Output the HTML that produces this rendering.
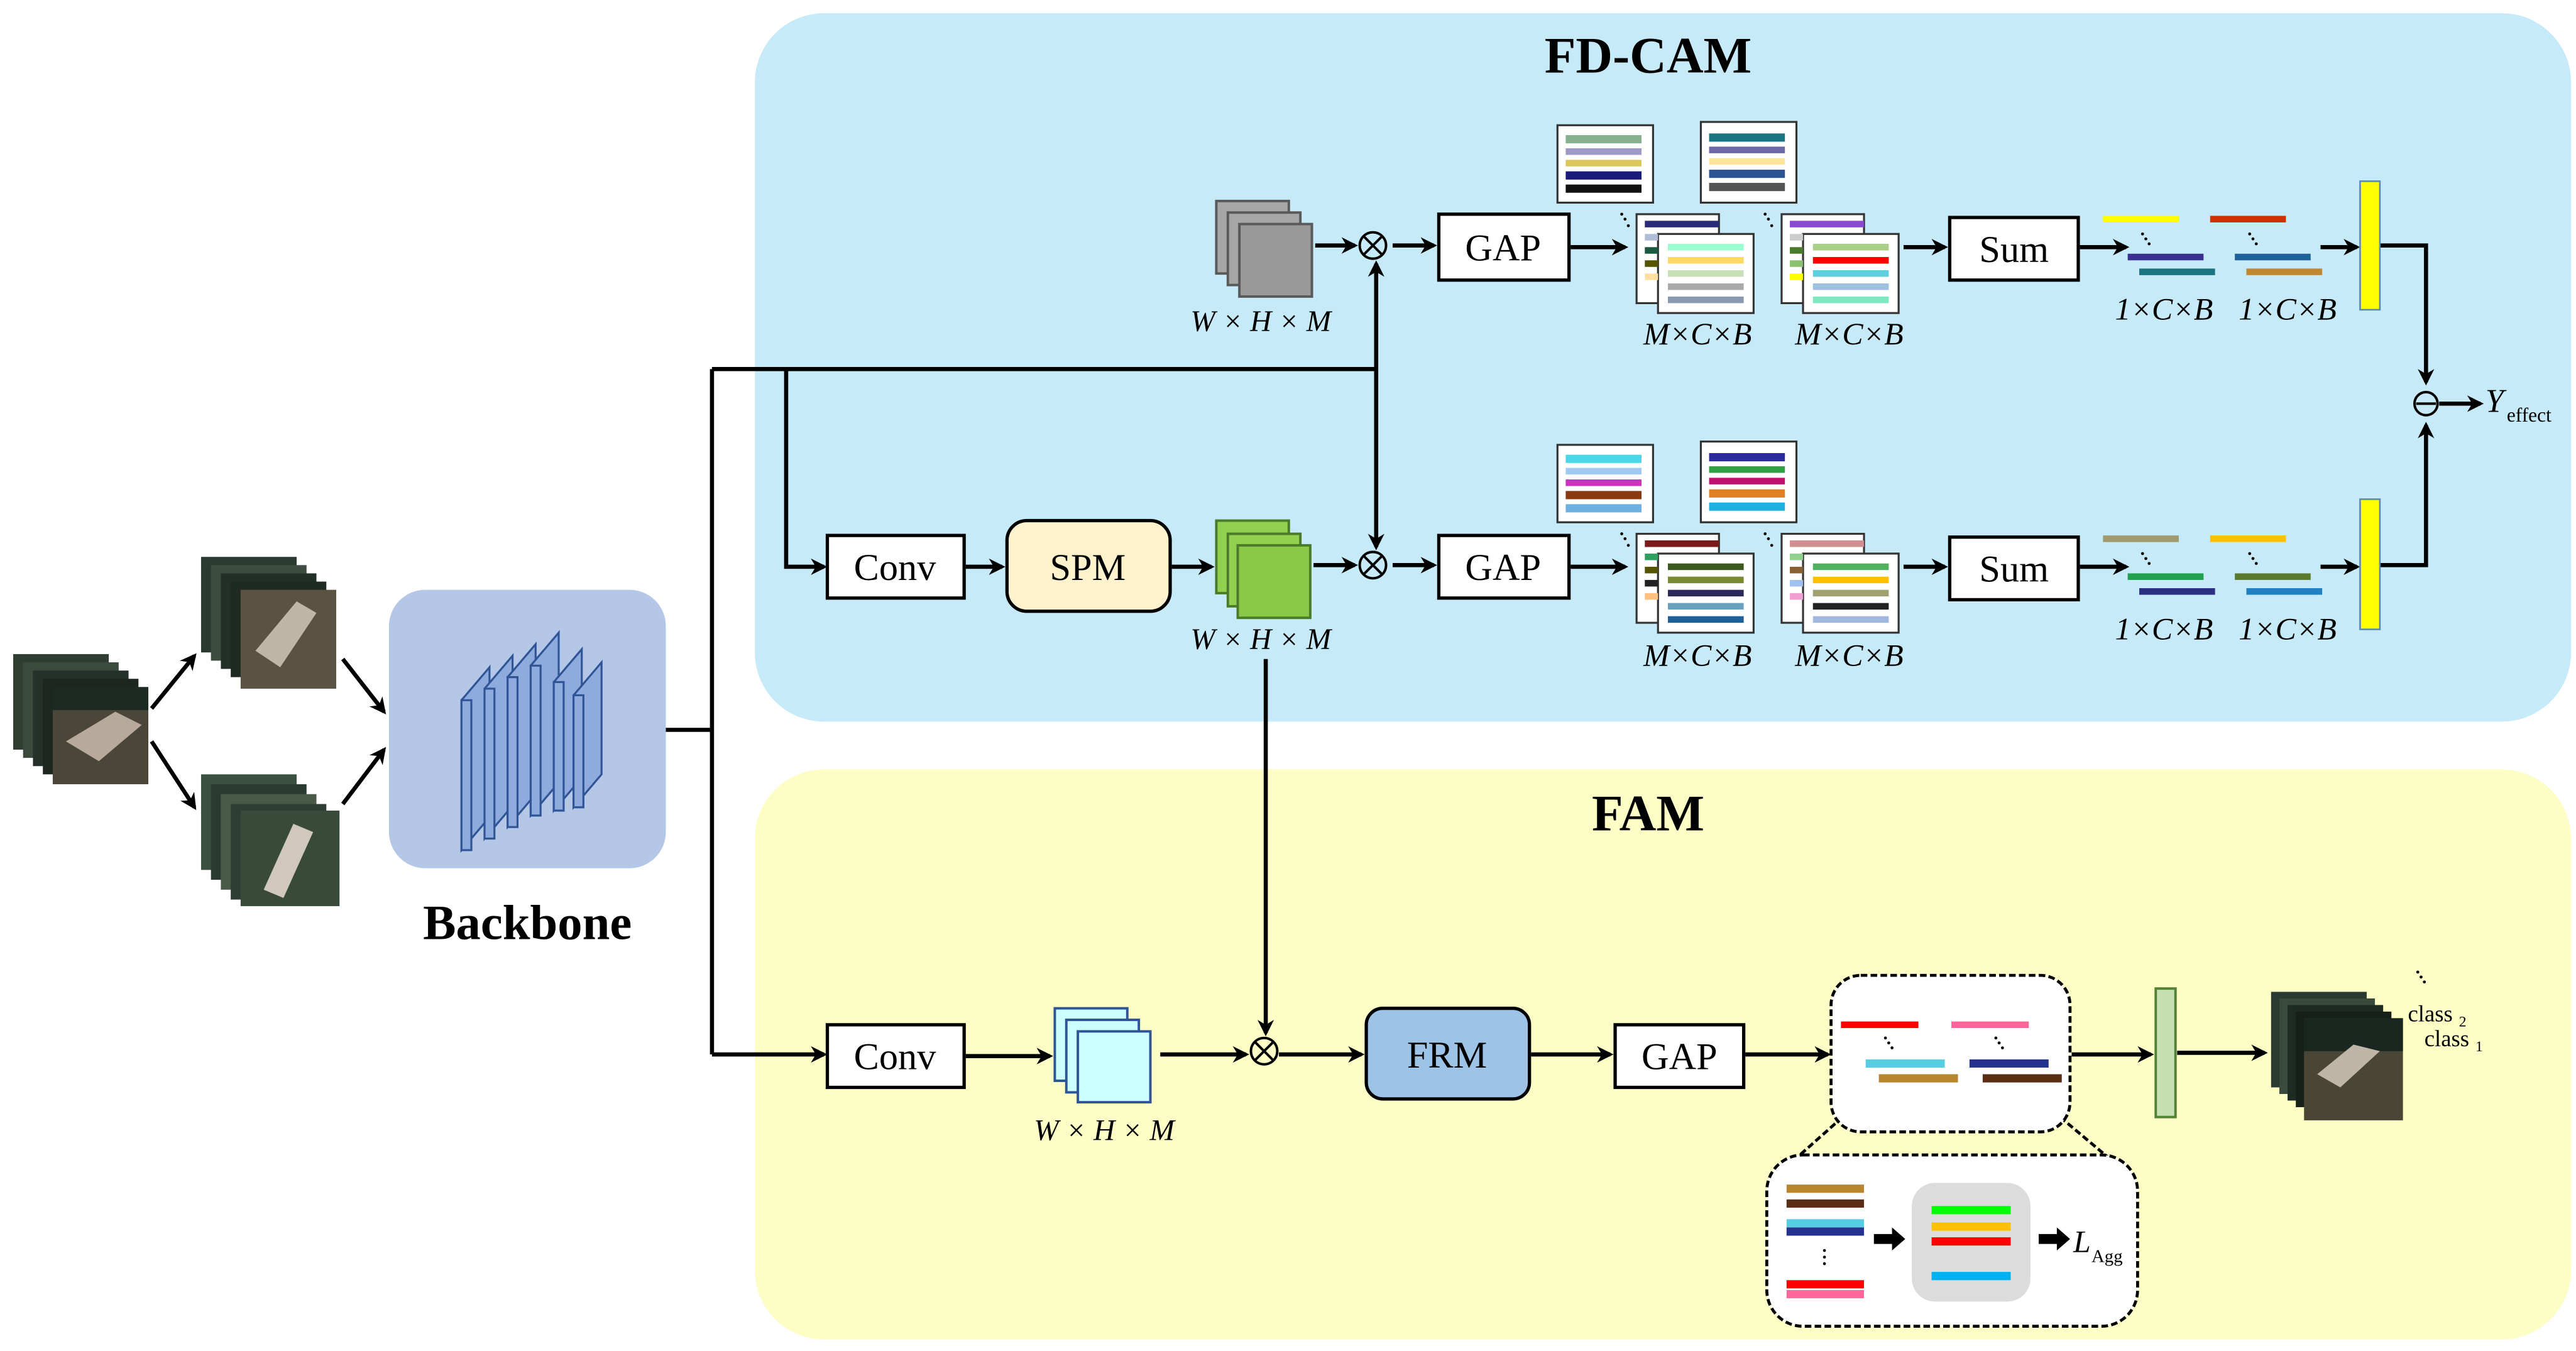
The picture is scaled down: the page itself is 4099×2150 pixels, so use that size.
<!DOCTYPE html>
<html><head><meta charset="utf-8"><style>
html,body{margin:0;padding:0;background:#fff;}
svg{display:block;}
text{font-family:"Liberation Serif",serif;}
</style></head><body>
<svg width="4099" height="2150" viewBox="0 0 1563 820" preserveAspectRatio="none" xmlns="http://www.w3.org/2000/svg" font-family="Liberation Serif, serif">
<defs>
<marker id="ah" markerWidth="10" markerHeight="10" refX="8" refY="5" orient="auto" markerUnits="userSpaceOnUse">
<path d="M0,0 L10,5 L0,10 L3,5 Z" fill="#000"/></marker>
</defs>
<rect width="1563" height="820" fill="#fff"/>
<rect x="458" y="8" width="1102" height="430" rx="42" fill="#c7eaf8"/>
<rect x="458" y="467" width="1102" height="346" rx="42" fill="#fdfdc6"/>
<text x="1000" y="44" font-size="31" font-weight="bold" text-anchor="middle">FD-CAM</text>
<text x="1000" y="504" font-size="31" font-weight="bold" text-anchor="middle">FAM</text>

<g>
<rect x="8" y="397" width="58" height="58" fill="#2f3d33"/>
<rect x="14" y="402" width="58" height="58" fill="#3a4a3c"/>
<rect x="20" y="407" width="58" height="58" fill="#26302a"/>
<rect x="26" y="412" width="58" height="58" fill="#1e2620"/>
<rect x="32" y="417" width="58" height="59" fill="#4a4638"/>
<polygon points="40,450 70,432 86,440 60,462" fill="#b8aa9a"/>
<rect x="32" y="417" width="58" height="14" fill="#1c2a22"/>
</g>
<g>
<rect x="122" y="338" width="58" height="58" fill="#2a3a30"/>
<rect x="128" y="343" width="58" height="58" fill="#3d4d40"/>
<rect x="134" y="348" width="58" height="58" fill="#233029"/>
<rect x="140" y="353" width="58" height="58" fill="#1e2a22"/>
<rect x="146" y="358" width="58" height="60" fill="#5a5242"/>
<polygon points="155,395 180,365 192,372 170,405" fill="#c0b6a8"/>
</g>
<g>
<rect x="122" y="470" width="58" height="58" fill="#3a5040"/>
<rect x="128" y="476" width="58" height="58" fill="#2a3a30"/>
<rect x="134" y="482" width="58" height="58" fill="#4a5a48"/>
<rect x="140" y="488" width="58" height="58" fill="#2e3e34"/>
<rect x="146" y="492" width="60" height="58" fill="#3a4a3a"/>
<polygon points="160,540 178,500 190,505 172,545" fill="#d0c8bc"/>
</g>
<g stroke="#000" stroke-width="2.5" fill="none" marker-end="url(#ah)">
<line x1="92" y1="430" x2="118" y2="398"/>
<line x1="92" y1="450" x2="118" y2="490"/>
<line x1="208" y1="400" x2="233" y2="432"/>
<line x1="208" y1="488" x2="233" y2="455"/>
</g>

<rect x="236" y="358" width="168" height="169" rx="22" fill="#b4c7e7"/>
<g fill="#8faadc" stroke="#2f5597" stroke-width="1.2">
<polygon points="280,425 297,405 297,496 280,516"/><polygon points="280,425 286,425 286,516 280,516"/>
<polygon points="294,418 311,398 311,489 294,509"/><polygon points="294,418 300,418 300,509 294,509"/>
<polygon points="308,411 325,391 325,482 308,502"/><polygon points="308,411 314,411 314,502 308,502"/>
<polygon points="322,404 339,384 339,475 322,495"/><polygon points="322,404 328,404 328,495 322,495"/>
<polygon points="336,414 353,394 353,472 336,492"/><polygon points="336,414 342,414 342,492 336,492"/>
<polygon points="348,422 365,402 365,470 348,490"/><polygon points="348,422 354,422 354,490 348,490"/>
</g>
<text x="320" y="570" font-size="30" font-weight="bold" text-anchor="middle">Backbone</text>

<g stroke="#000" stroke-width="2.5" fill="none">
<polyline points="404,443 432,443"/>
<polyline points="432,224 432,640"/>
<polyline points="432,224 835,224"/>
<polyline points="477,224 477,344 500,344" marker-end="url(#ah)"/>
<polyline points="432,640 500,640" marker-end="url(#ah)"/>
<line x1="835" y1="224" x2="835" y2="160" marker-end="url(#ah)"/>
<line x1="835" y1="224" x2="835" y2="332" marker-end="url(#ah)"/>
</g>

<g fill="#a6a6a6" stroke="#595959" stroke-width="1.5">
<rect x="738" y="122" width="44" height="44"/><rect x="745" y="129" width="44" height="44"/><rect x="752" y="136" width="44" height="44" fill="#999"/>
</g>
<text x="765" y="201" font-size="18" font-style="italic" text-anchor="middle">W × H × M</text>
<g stroke="#000" stroke-width="2.5" fill="none">
<line x1="798" y1="149" x2="822" y2="149" marker-end="url(#ah)"/>
<line x1="845" y1="149" x2="870" y2="149" marker-end="url(#ah)"/>
<line x1="953" y1="150" x2="986" y2="150" marker-end="url(#ah)"/>
<line x1="1155" y1="150" x2="1180" y2="150" marker-end="url(#ah)"/>
<line x1="1262" y1="150" x2="1290" y2="150" marker-end="url(#ah)"/>
<line x1="1408" y1="150" x2="1430" y2="150" marker-end="url(#ah)"/>
<polyline points="1444,149 1472,149 1472,232" marker-end="url(#ah)"/>
</g>
<circle cx="833" cy="149" r="8" fill="none" stroke="#000" stroke-width="1.5"/>
<path d="M827,143 L839,155 M839,143 L827,155" stroke="#000" stroke-width="1.5"/>
<rect x="873" y="130" width="79" height="40" fill="#fff" stroke="#000" stroke-width="2"/>
<text x="912" y="158" font-size="23" text-anchor="middle">GAP</text>
<rect x="1183" y="132" width="78" height="38" fill="#fff" stroke="#000" stroke-width="2"/>
<text x="1222" y="159" font-size="23" text-anchor="middle">Sum</text>

<g stroke="#333" stroke-width="1.2" fill="#fff">
<rect x="945" y="76" width="58" height="47"/><rect x="1032" y="74" width="58" height="49"/>
<rect x="993" y="130" width="50" height="54"/><rect x="1081" y="130" width="50" height="54"/>
<rect x="1006" y="142" width="58" height="48"/><rect x="1094" y="142" width="58" height="48"/>
</g>
<g>
<rect x="950" y="82" width="46" height="5" fill="#86b08e"/><rect x="950" y="90" width="46" height="4" fill="#9e9ac8"/><rect x="950" y="97" width="46" height="4" fill="#dcc75d"/><rect x="950" y="104" width="46" height="5" fill="#1a1a7a"/><rect x="950" y="112" width="46" height="5" fill="#111"/>
<rect x="1037" y="81" width="46" height="5" fill="#1b7580"/><rect x="1037" y="89" width="46" height="4" fill="#6b67a8"/><rect x="1037" y="96" width="46" height="4" fill="#ffe59a"/><rect x="1037" y="103" width="46" height="5" fill="#2a5595"/><rect x="1037" y="111" width="46" height="5" fill="#555"/>
<rect x="998" y="134" width="45" height="4" fill="#2a2a7a"/><rect x="998" y="142" width="8" height="4" fill="#b0bcd8"/><rect x="998" y="150" width="8" height="4" fill="#1a5a40"/><rect x="998" y="158" width="8" height="4" fill="#555500"/><rect x="998" y="166" width="8" height="4" fill="#ffe0a0"/>
<rect x="1086" y="134" width="45" height="4" fill="#8a4ad0"/><rect x="1086" y="142" width="8" height="4" fill="#ccc"/><rect x="1086" y="150" width="8" height="4" fill="#4a7a2a"/><rect x="1086" y="158" width="8" height="4" fill="#8ac070"/><rect x="1086" y="166" width="8" height="4" fill="#ffff00"/>
<rect x="1012" y="148" width="46" height="4" fill="#9affd0"/><rect x="1012" y="156" width="46" height="4" fill="#ffd866"/><rect x="1012" y="164" width="46" height="4" fill="#c8e0b8"/><rect x="1012" y="172" width="46" height="4" fill="#aaa"/><rect x="1012" y="180" width="46" height="4" fill="#8899b0"/>
<rect x="1100" y="148" width="46" height="4" fill="#a8d088"/><rect x="1100" y="156" width="46" height="4" fill="#ff0000"/><rect x="1100" y="164" width="46" height="4" fill="#5ccfe0"/><rect x="1100" y="172" width="46" height="4" fill="#9ec0e0"/><rect x="1100" y="180" width="46" height="4" fill="#7fe8c0"/>
</g>
<g fill="#000"><circle cx="984" cy="130" r="0.9"/><circle cx="986" cy="133" r="0.9"/><circle cx="988" cy="137" r="0.9"/><circle cx="1071" cy="130" r="0.9"/><circle cx="1073" cy="133" r="0.9"/><circle cx="1075" cy="137" r="0.9"/></g>
<text x="1030" y="209" font-size="19" font-style="italic" text-anchor="middle">M×C×B</text>
<text x="1122" y="209" font-size="19" font-style="italic" text-anchor="middle">M×C×B</text>
<rect x="1276" y="131" width="46" height="4" fill="#ffff00"/><rect x="1341" y="131" width="46" height="4" fill="#d03000"/>
<g fill="#000"><circle cx="1300" cy="142" r="0.9"/><circle cx="1302" cy="145" r="0.9"/><circle cx="1304" cy="148" r="0.9"/><circle cx="1365" cy="142" r="0.9"/><circle cx="1367" cy="145" r="0.9"/><circle cx="1369" cy="148" r="0.9"/></g>
<rect x="1291" y="154" width="46" height="4" fill="#3a3090"/><rect x="1356" y="154" width="46" height="4" fill="#1f6098"/>
<rect x="1298" y="163" width="46" height="4" fill="#1b7580"/><rect x="1363" y="163" width="46" height="4" fill="#c08830"/>
<text x="1313" y="194" font-size="19" font-style="italic" text-anchor="middle">1×C×B</text>
<text x="1388" y="194" font-size="19" font-style="italic" text-anchor="middle">1×C×B</text>
<rect x="1432" y="110" width="12" height="78" fill="#ffff00" stroke="#5a8ab0" stroke-width="1"/>

<circle cx="1472" cy="245" r="7" fill="none" stroke="#000" stroke-width="1.5"/>
<line x1="1466" y1="245" x2="1478" y2="245" stroke="#000" stroke-width="1.5"/>
<line x1="1480" y1="245" x2="1505" y2="245" stroke="#000" stroke-width="2.5" marker-end="url(#ah)"/>
<text x="1508" y="250" font-size="20" font-style="italic">Y</text><text x="1521" y="256" font-size="12">effect</text>

<rect x="502" y="325" width="83" height="38" fill="#fff" stroke="#000" stroke-width="2"/>
<text x="543" y="352" font-size="23" text-anchor="middle">Conv</text>
<rect x="611" y="316" width="99" height="55" rx="12" fill="#fff2cc" stroke="#000" stroke-width="2"/>
<text x="660" y="352" font-size="23" text-anchor="middle">SPM</text>
<g fill="#92d050" stroke="#4a7a2a" stroke-width="1.5">
<rect x="738" y="316" width="44" height="44"/><rect x="745" y="324" width="44" height="44"/><rect x="751" y="331" width="44" height="44" fill="#8ac848"/>
</g>
<text x="765" y="394" font-size="18" font-style="italic" text-anchor="middle">W × H × M</text>
<g stroke="#000" stroke-width="2.5" fill="none">
<line x1="586" y1="344" x2="608" y2="344" marker-end="url(#ah)"/>
<line x1="711" y1="344" x2="735" y2="344" marker-end="url(#ah)"/>
<line x1="797" y1="343" x2="822" y2="343" marker-end="url(#ah)"/>
<line x1="845" y1="343" x2="870" y2="343" marker-end="url(#ah)"/>
<line x1="953" y1="344" x2="986" y2="344" marker-end="url(#ah)"/>
<line x1="1155" y1="344" x2="1180" y2="344" marker-end="url(#ah)"/>
<line x1="1262" y1="344" x2="1290" y2="344" marker-end="url(#ah)"/>
<line x1="1408" y1="344" x2="1430" y2="344" marker-end="url(#ah)"/>
<polyline points="1444,343 1472,343 1472,258" marker-end="url(#ah)"/>
<line x1="768" y1="400" x2="768" y2="627" marker-end="url(#ah)"/>
</g>
<circle cx="833" cy="343" r="8" fill="none" stroke="#000" stroke-width="1.5"/>
<path d="M827,337 L839,349 M839,337 L827,349" stroke="#000" stroke-width="1.5"/>
<rect x="873" y="325" width="79" height="38" fill="#fff" stroke="#000" stroke-width="2"/>
<text x="912" y="352" font-size="23" text-anchor="middle">GAP</text>
<rect x="1183" y="326" width="78" height="38" fill="#fff" stroke="#000" stroke-width="2"/>
<text x="1222" y="353" font-size="23" text-anchor="middle">Sum</text>
<g stroke="#333" stroke-width="1.2" fill="#fff">
<rect x="945" y="270" width="58" height="47"/><rect x="1032" y="268" width="58" height="49"/>
<rect x="993" y="324" width="50" height="54"/><rect x="1081" y="324" width="50" height="54"/>
<rect x="1006" y="336" width="58" height="48"/><rect x="1094" y="336" width="58" height="48"/>
</g>
<g>
<rect x="950" y="276" width="46" height="5" fill="#4ad8e8"/><rect x="950" y="284" width="46" height="4" fill="#a0c8f0"/><rect x="950" y="291" width="46" height="4" fill="#d030c0"/><rect x="950" y="298" width="46" height="5" fill="#8a3a10"/><rect x="950" y="306" width="46" height="5" fill="#70b0e0"/>
<rect x="1037" y="275" width="46" height="5" fill="#2a2a9a"/><rect x="1037" y="283" width="46" height="4" fill="#30a040"/><rect x="1037" y="290" width="46" height="4" fill="#c01070"/><rect x="1037" y="297" width="46" height="5" fill="#e08020"/><rect x="1037" y="305" width="46" height="5" fill="#20b0e0"/>
<rect x="998" y="328" width="45" height="4" fill="#7a1a1a"/><rect x="998" y="336" width="8" height="4" fill="#30a060"/><rect x="998" y="344" width="8" height="4" fill="#555500"/><rect x="998" y="352" width="8" height="4" fill="#222"/><rect x="998" y="360" width="8" height="4" fill="#ffc080"/>
<rect x="1086" y="328" width="45" height="4" fill="#d09090"/><rect x="1086" y="336" width="8" height="4" fill="#90d090"/><rect x="1086" y="344" width="8" height="4" fill="#8a6030"/><rect x="1086" y="352" width="8" height="4" fill="#a0c0f0"/><rect x="1086" y="360" width="8" height="4" fill="#f0a0d0"/>
<rect x="1012" y="342" width="46" height="4" fill="#3a5a20"/><rect x="1012" y="350" width="46" height="4" fill="#7a8a30"/><rect x="1012" y="358" width="46" height="4" fill="#2a2a5a"/><rect x="1012" y="366" width="46" height="4" fill="#6aa0c0"/><rect x="1012" y="374" width="46" height="4" fill="#1f6098"/>
<rect x="1100" y="342" width="46" height="4" fill="#50b060"/><rect x="1100" y="350" width="46" height="4" fill="#ffc000"/><rect x="1100" y="358" width="46" height="4" fill="#a0a070"/><rect x="1100" y="366" width="46" height="4" fill="#222"/><rect x="1100" y="374" width="46" height="4" fill="#a0b8e0"/>
</g>
<g fill="#000"><circle cx="984" cy="324" r="0.9"/><circle cx="986" cy="327" r="0.9"/><circle cx="988" cy="331" r="0.9"/><circle cx="1071" cy="324" r="0.9"/><circle cx="1073" cy="327" r="0.9"/><circle cx="1075" cy="331" r="0.9"/></g>
<text x="1030" y="404" font-size="19" font-style="italic" text-anchor="middle">M×C×B</text>
<text x="1122" y="404" font-size="19" font-style="italic" text-anchor="middle">M×C×B</text>
<rect x="1276" y="325" width="46" height="4" fill="#a09a70"/><rect x="1341" y="325" width="46" height="4" fill="#ffc000"/>
<g fill="#000"><circle cx="1300" cy="336" r="0.9"/><circle cx="1302" cy="339" r="0.9"/><circle cx="1304" cy="342" r="0.9"/><circle cx="1365" cy="336" r="0.9"/><circle cx="1367" cy="339" r="0.9"/><circle cx="1369" cy="342" r="0.9"/></g>
<rect x="1291" y="348" width="46" height="4" fill="#20a050"/><rect x="1356" y="348" width="46" height="4" fill="#5a7a30"/>
<rect x="1298" y="357" width="46" height="4" fill="#2a3080"/><rect x="1363" y="357" width="46" height="4" fill="#2080c0"/>
<text x="1313" y="388" font-size="19" font-style="italic" text-anchor="middle">1×C×B</text>
<text x="1388" y="388" font-size="19" font-style="italic" text-anchor="middle">1×C×B</text>
<rect x="1432" y="303" width="12" height="79" fill="#ffff00" stroke="#5a8ab0" stroke-width="1"/>

<rect x="502" y="622" width="83" height="38" fill="#fff" stroke="#000" stroke-width="2"/>
<text x="543" y="649" font-size="23" text-anchor="middle">Conv</text>
<g fill="#ccffff" stroke="#2f5597" stroke-width="1.5">
<rect x="640" y="612" width="44" height="44"/><rect x="647" y="619" width="44" height="44"/><rect x="654" y="626" width="44" height="43"/>
</g>
<text x="670" y="692" font-size="18" font-style="italic" text-anchor="middle">W × H × M</text>
<circle cx="767" cy="638" r="8" fill="none" stroke="#000" stroke-width="1.5"/>
<path d="M761,632 L773,644 M773,632 L761,644" stroke="#000" stroke-width="1.5"/>
<rect x="829" y="612" width="99" height="55" rx="10" fill="#9dc3e6" stroke="#000" stroke-width="2"/>
<text x="878" y="648" font-size="23" text-anchor="middle">FRM</text>
<rect x="980" y="622" width="78" height="38" fill="#fff" stroke="#000" stroke-width="2"/>
<text x="1019" y="649" font-size="23" text-anchor="middle">GAP</text>
<g stroke="#000" stroke-width="2.5" fill="none">
<line x1="586" y1="641" x2="637" y2="641" marker-end="url(#ah)"/>
<line x1="704" y1="640" x2="756" y2="640" marker-end="url(#ah)"/>
<line x1="776" y1="640" x2="826" y2="640" marker-end="url(#ah)"/>
<line x1="929" y1="640" x2="977" y2="640" marker-end="url(#ah)"/>
<line x1="1059" y1="640" x2="1109" y2="640" marker-end="url(#ah)"/>
<line x1="1257" y1="640" x2="1305" y2="640" marker-end="url(#ah)"/>
<line x1="1321" y1="639" x2="1374" y2="639" marker-end="url(#ah)"/>
</g>
<g stroke="#000" stroke-width="1.8" stroke-dasharray="4,2" fill="#fff">
<line x1="1118" y1="678" x2="1082" y2="710" fill="none"/>
<line x1="1250" y1="678" x2="1288" y2="710" fill="none"/>
<rect x="1111" y="592" width="145" height="95" rx="18"/>
<rect x="1072" y="701" width="225" height="104" rx="22"/>
</g>
<rect x="1117" y="620" width="47" height="4" fill="#ff0000"/><rect x="1184" y="620" width="47" height="4" fill="#ff6699"/>
<g fill="#000"><circle cx="1144" cy="630" r="0.9"/><circle cx="1146" cy="633" r="0.9"/><circle cx="1148" cy="636" r="0.9"/><circle cx="1211" cy="630" r="0.9"/><circle cx="1213" cy="633" r="0.9"/><circle cx="1215" cy="636" r="0.9"/></g>
<rect x="1132" y="643" width="48" height="5" fill="#56cde0"/><rect x="1195" y="643" width="48" height="5" fill="#25338f"/>
<rect x="1140" y="652" width="48" height="5" fill="#b8862e"/><rect x="1203" y="652" width="48" height="5" fill="#5a2e14"/>
<rect x="1084" y="719" width="47" height="5" fill="#b8862e"/><rect x="1084" y="728" width="47" height="5" fill="#5a2e14"/>
<rect x="1084" y="740" width="47" height="5" fill="#56cde0"/><rect x="1084" y="745" width="47" height="5" fill="#25338f"/>
<g fill="#000"><circle cx="1107" cy="759" r="0.9"/><circle cx="1107" cy="763" r="0.9"/><circle cx="1107" cy="767" r="0.9"/><circle cx="1190" cy="762" r="0.9"/><circle cx="1190" cy="766" r="0.9"/><circle cx="1190" cy="770" r="0.9"/></g>
<rect x="1084" y="777" width="47" height="5" fill="#ff0000"/><rect x="1084" y="783" width="47" height="5" fill="#ff6699"/>
<rect x="1160" y="718" width="72" height="72" rx="14" fill="#dcdcdc"/>
<rect x="1172" y="732" width="48" height="5" fill="#00ff00"/><rect x="1172" y="742" width="48" height="5" fill="#ffc000"/><rect x="1172" y="751" width="48" height="5" fill="#ff0000"/><rect x="1172" y="772" width="48" height="5" fill="#00b0f0"/>
<polygon points="1137,749 1148,749 1148,745 1156,752 1148,759 1148,755 1137,755" fill="#000"/>
<polygon points="1237,749 1248,749 1248,745 1256,752 1248,759 1248,755 1237,755" fill="#000"/>
<text x="1258" y="760" font-size="19" font-style="italic">L</text><text x="1269" y="766" font-size="11">Agg</text>
<rect x="1308" y="600" width="12" height="78" fill="#c6e0b4" stroke="#548235" stroke-width="1.5"/>
<g>
<rect x="1378" y="602" width="58" height="58" fill="#2a3a30"/>
<rect x="1383" y="606" width="58" height="58" fill="#3a4a3c"/>
<rect x="1388" y="610" width="58" height="58" fill="#1e2a24"/>
<rect x="1393" y="614" width="58" height="58" fill="#162018"/>
<rect x="1398" y="618" width="60" height="62" fill="#4a4636"/>
<rect x="1398" y="618" width="60" height="20" fill="#1a2620"/>
<polygon points="1406,652 1428,634 1444,638 1420,660" fill="#c0b6a8"/>
</g>
<g fill="#000"><circle cx="1467" cy="590" r="0.9"/><circle cx="1469" cy="593" r="0.9"/><circle cx="1471" cy="596" r="0.9"/></g>
<text x="1461" y="620" font-size="14">class</text><text x="1492" y="623" font-size="9">2</text>
<text x="1471" y="635" font-size="14">class</text><text x="1502" y="638" font-size="9">1</text>
</svg>
</body></html>
